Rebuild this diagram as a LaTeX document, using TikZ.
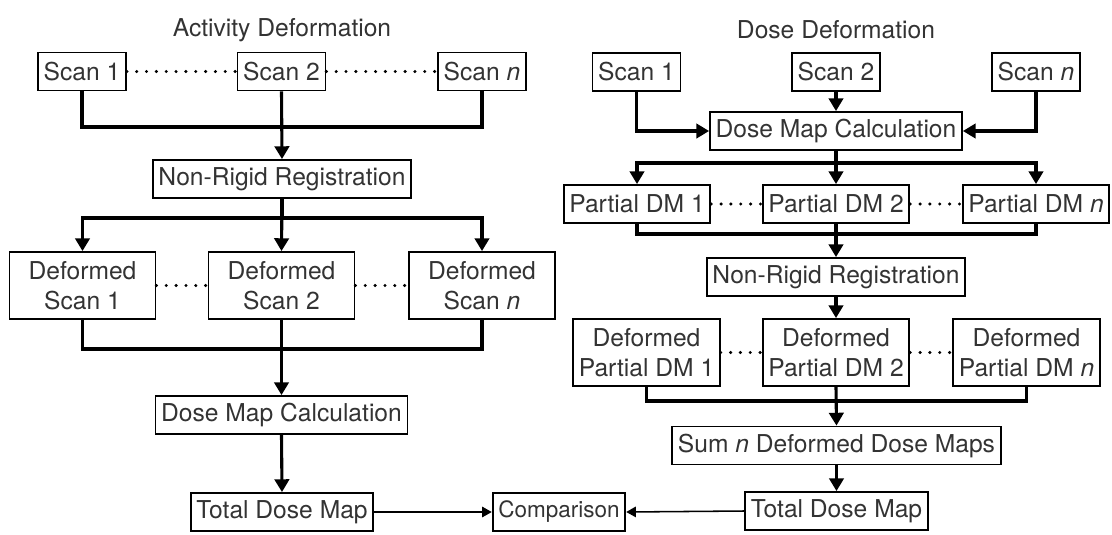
\documentclass[tikz,border=0pt]{standalone}
\usepackage{fontspec}
\setmainfont{TeX Gyre Heros}
\usetikzlibrary{arrows.meta}

\begin{document}
\begin{tikzpicture}[x=0.025cm, y=-0.025cm,
   box/.style={draw, line width=1.3pt, inner xsep=4pt, minimum height=0.95cm, text=black!80, font=\fontsize{17.5}{21}\selectfont},
   widebox/.style={box, minimum width=3.65cm},
   tallbox/.style={widebox, align=center, minimum height=1.675cm},
   title/.style={text=black!80, font=\fontsize{17.5}{21}\selectfont},
   bus/.style={line width=2.2pt},
   arr/.style={bus, -{Triangle[length=0.32cm,width=0.36cm]}},
   thinarr/.style={line width=1.1pt, -{Triangle[length=0.24cm,width=0.26cm]}},
   dots/.style={line width=2.4pt, line cap=round, dash pattern=on 0pt off 7pt}]

   \useasboundingbox (0,0) rectangle (1112,534);

   % activity deformation
   \node (ActTitle) at (282,30) [title] {Activity Deformation};

   \node (ActScan1) at (82,71.5) [box] {Scan 1};
   \node (ActScan2) at (281.5,71.5) [box] {Scan 2};
   \node (ActScanN) at (482,71.5) [box] {Scan \textit{n}};

   \node (ActNRR) at (282,179) [box] {Non-Rigid Registration};

   \node (ActDef1) at (82.5,285.5) [tallbox] {Deformed\\Scan 1};
   \node (ActDef2) at (281.5,285.5) [tallbox] {Deformed\\Scan 2};
   \node (ActDefN) at (482,285.5) [tallbox] {Deformed\\Scan \textit{n}};

   \node (ActDMC) at (281.5,415) [box] {Dose Map Calculation};
   \node (ActTotal) at (282,512) [box] {Total Dose Map};

   \coordinate (ActJoin1) at (281.5,127);
   \coordinate (ActSplit) at (282,218);
   \coordinate (ActJoin2) at (281.5,349);

   \draw [dots] (ActScan1.east) -- (ActScan2.west);
   \draw [dots] (ActScan2.east) -- (ActScanN.west);
   \draw [bus] (ActScan1.south) |- (ActJoin1) -| (ActScanN.south);
   \draw [arr] (ActScan2.south) -- (ActNRR.north);

   \draw [bus] (ActNRR.south) -- (ActSplit);
   \draw [arr] (ActSplit) -| (ActDef1.north);
   \draw [arr] (ActSplit) -| (ActDefN.north);
   \draw [arr] (ActNRR.south) -- (ActDef2.north);

   \draw [dots] (ActDef1.east) -- (ActDef2.west);
   \draw [dots] (ActDef2.east) -- (ActDefN.west);
   \draw [bus] (ActDef1.south) |- (ActJoin2) -| (ActDefN.south);
   \draw [arr] (ActDef2.south) -- (ActDMC.north);
   \draw [arr] (ActDMC.south) -- (ActTotal.north);

   % dose deformation
   \node (DoseTitle) at (836,30) [title] {Dose Deformation};

   \node (DoseScan1) at (636.5,72) [box] {Scan 1};
   \node (DoseScan2) at (836,72) [box] {Scan 2};
   \node (DoseScanN) at (1036,72) [box] {Scan \textit{n}};

   \node (DoseDMC) at (836,131) [box] {Dose Map Calculation};

   \node (DosePart1) at (637,204) [widebox] {Partial DM 1};
   \node (DosePart2) at (836,204) [widebox] {Partial DM 2};
   \node (DosePartN) at (1036,204) [widebox] {Partial DM \textit{n}};

   \node (DoseNRR) at (836,277) [box] {Non-Rigid Registration};

   \node (DoseDef1) at (646.5,352.5) [tallbox] {Deformed\\Partial DM 1};
   \node (DoseDef2) at (836,352.5) [tallbox] {Deformed\\Partial DM 2};
   \node (DoseDefN) at (1026.5,352.5) [tallbox] {Deformed\\Partial DM \textit{n}};

   \node (DoseSum) at (836.5,445.5) [box] {Sum \textit{n} Deformed Dose Maps};
   \node (DoseTotal) at (836.5,511) [box] {Total Dose Map};

   \coordinate (DoseSplit) at (836,163);
   \coordinate (DoseJoin1) at (836,234);
   \coordinate (DoseJoin2) at (836,401);

   \draw [arr] (DoseScan1.south) |- (DoseDMC.west);
   \draw [arr] (DoseScanN.south) |- (DoseDMC.east);
   \draw [arr] (DoseScan2.south) -- (DoseDMC.north);

   \draw [bus] (DoseDMC.south) -- (DoseSplit);
   \draw [arr] (DoseSplit) -| (DosePart1.north);
   \draw [arr] (DoseSplit) -| (DosePartN.north);
   \draw [arr] (DoseDMC.south) -- (DosePart2.north);

   \draw [dots] (DosePart1.east) -- (DosePart2.west);
   \draw [dots] (DosePart2.east) -- (DosePartN.west);
   \draw [bus] (DosePart1.south) |- (DoseJoin1) -| (DosePartN.south);
   \draw [arr] (DosePart2.south) -- (DoseNRR.north);
   \draw [arr] (DoseNRR.south) -- (DoseDef2.north);

   \draw [dots] (DoseDef1.east) -- (DoseDef2.west);
   \draw [dots] (DoseDef2.east) -- (DoseDefN.west);
   \draw [bus] (DoseDef1.south) |- (DoseJoin2) -| (DoseDefN.south);
   \draw [arr] (DoseDef2.south) -- (DoseSum.north);
   \draw [arr] (DoseSum.south) -- (DoseTotal.north);

   % comparison
   \node (Comparison) at (559,512) [box, font=\fontsize{16}{19}\selectfont] {Comparison};

   \draw [thinarr] (ActTotal.east) -- (Comparison.west);
   \draw [thinarr] (DoseTotal.west) -- (Comparison.east);

\end{tikzpicture}
\end{document}
